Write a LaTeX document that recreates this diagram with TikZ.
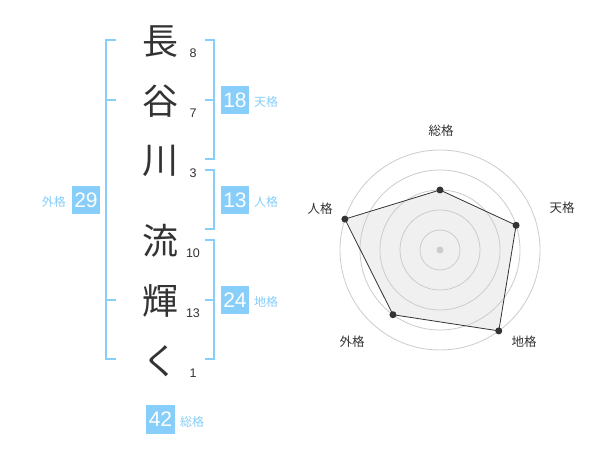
\documentclass[tikz,border=0pt]{standalone}
\usepackage{fontspec}
\usetikzlibrary{calc}
\setmainfont{Liberation Sans}
\newfontfamily\jpfont{Noto Sans CJK JP}
\definecolor{kblue}{HTML}{87CEFA}
\definecolor{ktext}{HTML}{333333}
\definecolor{kgrid}{HTML}{CCCCCC}
\definecolor{kfill}{HTML}{F0F0F0}
\tikzset{
  kanji/.style={font=\jpfont\fontsize{36}{36}\selectfont, text=ktext, inner sep=0pt},
  strokenum/.style={font=\fontsize{12.5}{12.5}\selectfont, text=ktext, inner sep=0pt},
  scorebox/.style={fill=kblue, minimum width=28.5pt, minimum height=28.5pt, inner sep=0pt, text=white, font=\fontsize{21}{21}\selectfont},
  scorelabel/.style={font=\jpfont\fontsize{12}{12}\selectfont, text=kblue, inner sep=0pt},
  bracket/.style={draw=kblue, line width=2pt},
  ring/.style={draw=kgrid, line width=0.8pt},
  radarlabel/.style={font=\jpfont\fontsize{12.5}{12.5}\selectfont, text=ktext, inner sep=0pt},
  radardot/.style={circle, fill=ktext, minimum size=7pt, inner sep=0pt},
}
\begin{document}
\begin{tikzpicture}[x=1pt,y=-1pt]
\useasboundingbox (0,0) rectangle (600,470);
\fill[white] (0,0) rectangle (600,470);
% characters
\node[kanji] (c1) at (160,42) {長};
\node[kanji] (c2) at (160,101) {谷};
\node[kanji] (c3) at (160,161) {川};
\node[kanji] (c4) at (160,241) {流};
\node[kanji] (c5) at (160,301) {輝};
\node[kanji] (c6) at (160,361) {く};
% stroke numbers
\node[strokenum] (n1) at (193,53.5) {8};
\node[strokenum] (n2) at (193,113.5) {7};
\node[strokenum] (n3) at (193,173.5) {3};
\node[strokenum] (n4) at (193,253) {10};
\node[strokenum] (n5) at (193,313) {13};
\node[strokenum] (n6) at (193,373.5) {1};
% brackets
\draw[bracket] (116,40) -- (106,40) -- (106,359) -- (116,359);
\draw[bracket] (106,100) -- (116,100);
\draw[bracket] (106,300) -- (116,300);
\draw[bracket] (205,40) -- (214,40) -- (214,159) -- (205,159);
\draw[bracket] (205,100) -- (214,100);
\draw[bracket] (205,170) -- (214,170) -- (214,229) -- (205,229);
\draw[bracket] (205,240) -- (214,240) -- (214,359) -- (205,359);
\draw[bracket] (205,300) -- (214,300);
% score boxes
\node[scorebox] (bT) at (235,100) {18};
\node[scorelabel, anchor=west] (lT) at (254,102) {天格};
\node[scorebox] (bJ) at (235,200) {13};
\node[scorelabel, anchor=west] (lJ) at (254,202) {人格};
\node[scorebox] (bC) at (235,300) {24};
\node[scorelabel, anchor=west] (lC) at (254,302) {地格};
\node[scorebox] (bG) at (86,200) {29};
\node[scorelabel, anchor=east] (lG) at (66,202) {外格};
\node[scorebox] (bS) at (160.5,419.5) {42};
\node[scorelabel, anchor=west] (lS) at (180,422) {総格};
% radar chart
\coordinate (O) at (440,250);
\coordinate (pS) at ($(O)+(0,-60)$);
\coordinate (pT) at ($(O)+({80*cos(18)},{-80*sin(18)})$);
\coordinate (pC) at ($(O)+({100*cos(54)},{100*sin(54)})$);
\coordinate (pG) at ($(O)+({-80*cos(54)},{80*sin(54)})$);
\coordinate (pJ) at ($(O)+({-100*cos(18)},{-100*sin(18)})$);
\fill[kfill] (pS) -- (pT) -- (pC) -- (pG) -- (pJ) -- cycle;
\foreach \r in {20,40,60,80,100} \draw[ring] (O) circle[radius=\r];
\draw[draw=ktext, line width=0.8pt] (pS) -- (pT) -- (pC) -- (pG) -- (pJ) -- cycle;
\fill[kgrid] (O) circle[radius=3.5];
\foreach \p in {pS,pT,pC,pG,pJ} \node[radardot] at (\p) {};
\node[radarlabel] (rS) at (441,131) {総格};
\node[radarlabel] (rT) at (562,208) {天格};
\node[radarlabel] (rC) at (524,342) {地格};
\node[radarlabel] (rG) at (352,342) {外格};
\node[radarlabel] (rJ) at (320,209) {人格};
\end{tikzpicture}
\end{document}
